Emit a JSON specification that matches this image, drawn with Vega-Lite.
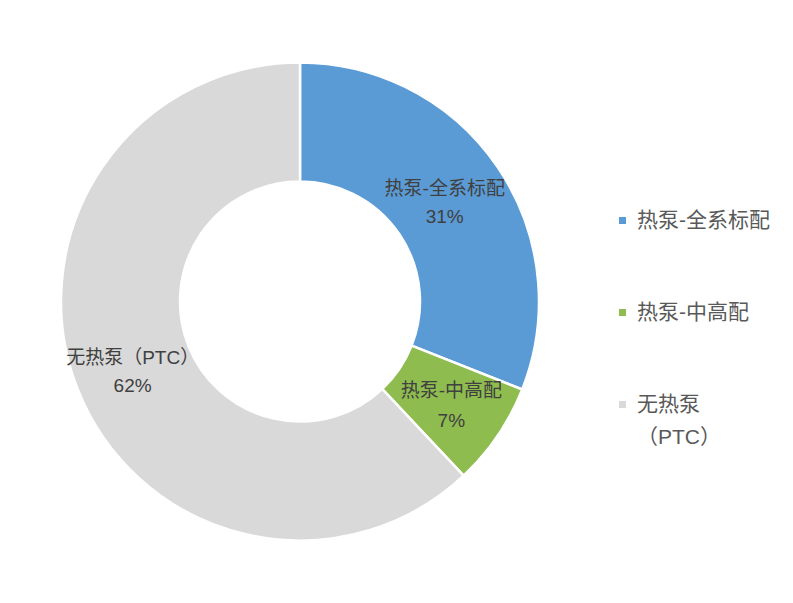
{
  "$schema": "https://vega.github.io/schema/vega-lite/v6.json",
  "width": 600,
  "height": 603,
  "padding": 0,
  "background": "white",
  "config": {"view": {"stroke": null}, "style": {"guide-label": {"lineHeight": 33}}},
  "data": {
    "values": [
      {"idx": 1, "category": "热泵-全系标配", "value": 31, "label": "热泵-全系标配\n31%"},
      {"idx": 2, "category": "热泵-中高配", "value": 7, "label": "热泵-中高配\n7%"},
      {"idx": 3, "category": "无热泵（PTC）", "value": 62, "label": "无热泵（PTC）\n62%"}
    ]
  },
  "encoding": {
    "theta": {"field": "value", "type": "quantitative", "stack": true},
    "order": {"field": "idx", "type": "quantitative"}
  },
  "layer": [
    {
      "mark": {"type": "arc", "outerRadius": 239, "innerRadius": 120, "stroke": "white", "strokeWidth": 2.5},
      "encoding": {
        "color": {
          "field": "category",
          "type": "nominal",
          "sort": ["热泵-全系标配", "热泵-中高配", "无热泵（PTC）"],
          "scale": {"domain": ["热泵-全系标配", "热泵-中高配", "无热泵（PTC）"], "range": ["#5B9BD5", "#8FBC4F", "#D9D9D9"]},
          "legend": {
            "title": null,
            "orient": "none",
            "legendX": 612,
            "legendY": 210,
            "symbolType": "square",
            "symbolSize": 49,
            "symbolStrokeWidth": 0,
            "labelFont": "Liberation Sans, Noto Sans CJK SC",
            "labelFontSize": 21,
            "labelColor": "#595959",
            "labelOffset": 4,
            "labelLimit": 300,
            "rowPadding": 70,
            "labelExpr": "datum.label == '无热泵（PTC）' ? ['无热泵', '（PTC）'] : datum.label"
          }
        }
      }
    },
    {
      "mark": {"type": "text", "radius": 175, "dy": -14, "lineBreak": "\n", "font": "Liberation Sans, Noto Sans CJK SC", "fontSize": 19, "color": "#404040", "lineHeight": 28},
      "encoding": {
        "text": {"condition": {"test": "datum.idx == 1", "field": "label"}, "value": ""}
      }
    },
    {
      "mark": {"type": "text", "radius": 183, "dy": -13, "lineBreak": "\n", "font": "Liberation Sans, Noto Sans CJK SC", "fontSize": 19, "color": "#404040", "lineHeight": 30},
      "encoding": {
        "text": {"condition": {"test": "datum.idx == 2", "field": "label"}, "value": ""}
      }
    },
    {
      "mark": {"type": "text", "radius": 180, "dy": -10, "lineBreak": "\n", "font": "Liberation Sans, Noto Sans CJK SC", "fontSize": 19, "color": "#404040", "lineHeight": 28},
      "encoding": {
        "text": {"condition": {"test": "datum.idx == 3", "field": "label"}, "value": ""}
      }
    }
  ]
}
